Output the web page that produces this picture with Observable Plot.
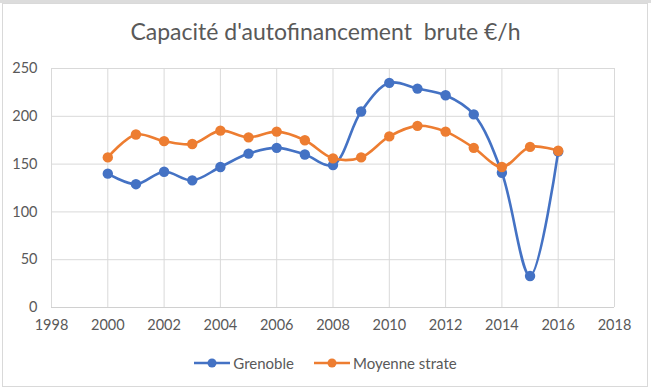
<!DOCTYPE html>
<html>
<head>
<meta charset="utf-8">
<script src="https://cdn.jsdelivr.net/npm/d3@7"></script>
<script src="https://cdn.jsdelivr.net/npm/@observablehq/plot@0.6"></script>
<style>
  html, body { margin: 0; padding: 0; background: #fff; }
  body { width: 651px; height: 391px; position: relative; overflow: hidden; font-family: Lato, "Open Sans", sans-serif; }
  #topband { position: absolute; left: 0; top: 0; width: 651px; height: 3px; background: #dcdcdc; }
  #frame { position: absolute; left: 2px; top: 3px; width: 644px; height: 382px; border: 1px solid #d9d9d9; }
  #title { position: absolute; left: 0; top: 17px; width: 651px; text-align: center; font-size: 23px; color: #595959; }
  #chart { position: absolute; left: 0; top: 55px; }
  #legend { position: absolute; left: 0; top: 354px; width: 651px; display: flex; justify-content: center; gap: 20px; font-size: 15px; color: #595959; }
  .item { display: flex; align-items: center; gap: 3px; }
</style>
</head>
<body>
<div id="topband"></div>
<div id="frame"></div>
<div id="title">Capacité d'autofinancement&nbsp; brute €/h</div>
<div id="chart"></div>
<div id="legend"></div>
<script>
const years = [2000,2001,2002,2003,2004,2005,2006,2007,2008,2009,2010,2011,2012,2013,2014,2015,2016];
const grenoble = [140,129,142,133,147,161,167,160,149,205,235,229,222,202,141,33,163];
const moyenne  = [157,181,174,171,185,178,184,175,156,157,179,190,184,167,147,168,164];
const seriesNames = ["Grenoble", "Moyenne strate"];
const seriesColors = ["#4472C4", "#ED7D31"];
const xTicks = [1998,2000,2002,2004,2006,2008,2010,2012,2014,2016,2018];
const yTicks = [0,50,100,150,200,250];

const data = [];
years.forEach((y, i) => data.push({year: y, value: grenoble[i], s: seriesNames[0]}));
years.forEach((y, i) => data.push({year: y, value: moyenne[i], s: seriesNames[1]}));

const plot = Plot.plot({
  width: 651,
  height: 285,
  marginLeft: 51,
  marginRight: 37,
  marginTop: 13,
  marginBottom: 33,
  style: { fontFamily: "Lato, 'Open Sans', sans-serif", fontSize: "14.5px", color: "#595959", background: "transparent" },
  x: { domain: [1998, 2018], ticks: xTicks, tickFormat: d => String(d), tickSize: 0, tickPadding: 12, label: null },
  y: { domain: [0, 250], ticks: yTicks, tickSize: 0, tickPadding: 14, label: null },
  color: { domain: seriesNames, range: seriesColors },
  marks: [
    Plot.gridX(xTicks, { stroke: "#d9d9d9", strokeOpacity: 1, strokeWidth: 1 }),
    Plot.gridY(yTicks, { stroke: "#d9d9d9", strokeOpacity: 1, strokeWidth: 1 }),
    Plot.ruleY([0], { stroke: "#d0d0d0", strokeWidth: 1 }),
    Plot.line(data, { x: "year", y: "value", stroke: "s", z: "s", curve: "catmull-rom", strokeWidth: 2.6 }),
    Plot.dot(data, { x: "year", y: "value", fill: "s", r: 5.2, stroke: "none" })
  ]
});
document.getElementById("chart").appendChild(plot);

const legend = document.getElementById("legend");
seriesNames.forEach((name, i) => {
  const item = document.createElement("div");
  item.className = "item";
  item.innerHTML = `<svg width="36" height="12"><line x1="0" y1="6" x2="36" y2="6" stroke="${seriesColors[i]}" stroke-width="2.6"/><circle cx="18" cy="6" r="4.5" fill="${seriesColors[i]}"/></svg><span>${name}</span>`;
  legend.appendChild(item);
});
</script>
</body>
</html>
